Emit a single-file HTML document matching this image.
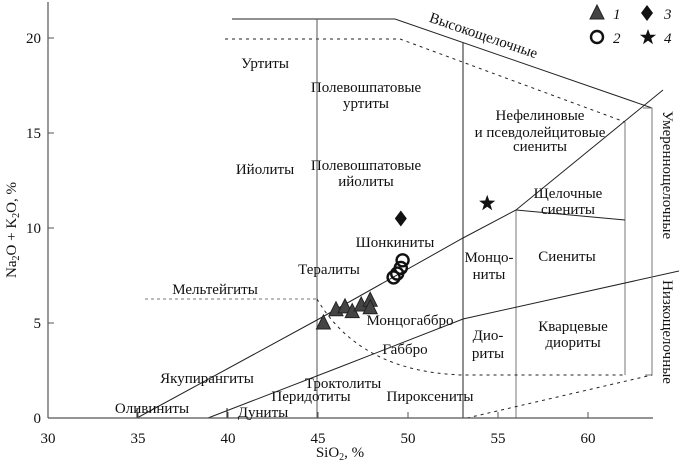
<!DOCTYPE html>
<html><head><meta charset="utf-8"><style>
body{margin:0;background:#fff}
svg{display:block;font-family:"Liberation Serif",serif}
text{font-size:15px;fill:#111}
</style></head><body>
<svg width="679" height="463" viewBox="0 0 679 463">
<g fill="none" stroke="#222" stroke-width="1">
<polyline points="232,19 395,19 652,108"/>
<polyline points="225,39 400,39 625,122" stroke-dasharray="3,4"/>
<line x1="317" y1="19" x2="317" y2="418" stroke="#555"/>
<line x1="463" y1="43" x2="463" y2="418"/>
<line x1="516" y1="210" x2="516" y2="418" stroke="#777"/>
<line x1="625" y1="122" x2="625" y2="375" stroke="#777"/>
<polyline points="137,418 317,320 463,238 516,210 663,90"/>
<line x1="516" y1="210" x2="625" y2="220"/>
<polyline points="208,418 340,367 463,319 679,271"/>
<polyline points="643,108 652,108 652,375 645,375" stroke="#777"/>
<line x1="145" y1="299" x2="317" y2="299" stroke="#777" stroke-dasharray="3,3"/>
<path d="M317,299 Q360,372 463,375 L625,375" stroke-dasharray="3,4"/>
<line x1="467" y1="418" x2="652" y2="375" stroke-dasharray="3,4"/>
<line x1="137" y1="408" x2="137" y2="418"/>
<line x1="227" y1="408" x2="227" y2="418"/>
</g>
<g id="axes" stroke="#555" stroke-width="1.2">
<line x1="48" y1="2" x2="48" y2="418"/>
<line x1="48" y1="418" x2="653" y2="418"/>
</g>
<g id="ticks"></g>
<g text-anchor="middle">
<text x="265" y="68">Уртиты</text>
<text x="265" y="174">Ийолиты</text>
<text x="366" y="92">Полевошпатовые</text><text x="366" y="108">уртиты</text>
<text x="366" y="170">Полевошпатовые</text><text x="366" y="186">ийолиты</text>
<text x="540" y="120">Нефелиновые</text><text x="540" y="137">и псевдолейцитовые</text><text x="540" y="151">сиениты</text>
<text x="568" y="198">Щелочные</text><text x="568" y="214">сиениты</text>
<text x="395" y="247">Шонкиниты</text>
<text x="329" y="274">Тералиты</text>
<text x="489" y="262">Монцо-</text><text x="489" y="279">ниты</text>
<text x="567" y="261">Сиениты</text>
<text x="215" y="294">Мельтейгиты</text>
<text x="410" y="325">Монцогаббро</text>
<text x="405" y="354">Габбро</text>
<text x="488" y="340">Дио-</text><text x="488" y="358">риты</text>
<text x="573" y="331">Кварцевые</text><text x="573" y="347">диориты</text>
<text x="207" y="383">Якупирангиты</text>
<text x="343" y="388">Троктолиты</text>
<text x="311" y="401">Перидотиты</text>
<text x="430" y="401">Пироксениты</text>
<text x="152" y="413">Оливиниты</text>
<text x="263" y="417">Дуниты</text>
<text x="482" y="40" transform="rotate(19 482 40)">Высокощелочные</text>
<text x="663" y="175" transform="rotate(90 663 175)">Умереннощелочные</text>
<text x="663" y="332" transform="rotate(90 663 332)">Низкощелочные</text>
</g>
<g id="points"></g>
<g>
<polygon points="597,5 590,19 604,19" fill="#444" stroke="#222"/>
<text x="613" y="19" font-style="italic">1</text>
<polygon points="647,5 653,13 647,21 641,13" fill="#111"/>
<text x="664" y="19" font-style="italic">3</text>
<circle cx="597" cy="37" r="6" fill="none" stroke="#111" stroke-width="2.4"/>
<text x="613" y="43" font-style="italic">2</text>
<polygon points="648,29 650.1,34.8 656.1,34.8 651.2,38.4 653,44.2 648,40.6 643,44.2 644.8,38.4 639.9,34.8 645.9,34.8" fill="#111"/>
<text x="664" y="43" font-style="italic">4</text>
</g>
<text x="340" y="457" text-anchor="middle">SiO<tspan font-size="10" dy="3">2</tspan><tspan dy="-3">, %</tspan></text>
<text x="16" y="230" text-anchor="middle" transform="rotate(-90 16 230)">Na<tspan font-size="10" dy="3">2</tspan><tspan dy="-3">O + K</tspan><tspan font-size="10" dy="3">2</tspan><tspan dy="-3">O, %</tspan></text>
</svg>
<script>
const xTicks=[30,35,40,45,50,55,60];
const yTicks=[0,5,10,15,20];
const triSi=[45.3,46.0,46.5,46.9,47.4,47.9,47.9];
const triAlk=[5.0,5.7,5.85,5.6,5.95,6.2,5.8];
const circSi=[49.7,49.6,49.4,49.2];
const circAlk=[8.3,7.9,7.6,7.4];
const diaSi=[49.6];
const diaAlk=[10.5];
const starSi=[54.4];
const starAlk=[11.3];
const X=v=>48+(v-30)*18, Y=v=>418-v*19;
const NS="http://www.w3.org/2000/svg";
function mk(tag,attrs,parent){const e=document.createElementNS(NS,tag);for(const k in attrs)e.setAttribute(k,attrs[k]);parent.appendChild(e);return e;}
const tg=document.getElementById('ticks');
xTicks.forEach(v=>{
 const l=mk('line',{x1:X(v),x2:X(v),y1:418,y2:412,stroke:'#555'},tg);
 
 
 const t=mk('text',{x:X(v),y:443,'text-anchor':'middle'},tg);t.textContent=v;
 
 
});
yTicks.forEach(v=>{
 const l=mk('line',{x1:48,x2:54,y1:Y(v),y2:Y(v),stroke:'#555'},tg);
 
 
 const t=mk('text',{x:41,y:Y(v)+5,'text-anchor':'end'},tg);t.textContent=v;
 
 
});
const pg=document.getElementById('points');
triSi.forEach((s,i)=>{const x=X(s),y=Y(triAlk[i]);
 const p=mk('polygon',{points:`${x},${y-8} ${x-7},${y+6} ${x+7},${y+6}`,fill:'#444',stroke:'#222'},pg);
 
 });
circSi.forEach((s,i)=>{
 const c=mk('circle',{cx:X(s),cy:Y(circAlk[i]),r:6,fill:'none',stroke:'#111','stroke-width':2.4},pg);
 
 });
diaSi.forEach((s,i)=>{const x=X(s),y=Y(diaAlk[i]);
 const p=mk('polygon',{points:`${x},${y-8} ${x+6},${y} ${x},${y+8} ${x-6},${y}`,fill:'#111'},pg);
 
 });
starSi.forEach((s,i)=>{const x=X(s),y=Y(starAlk[i]);
 const pts=[];for(let k=0;k<10;k++){const r=k%2?3.4:8.5,a=-Math.PI/2+k*Math.PI/5;pts.push((x+r*Math.cos(a)).toFixed(1)+','+(y+r*Math.sin(a)).toFixed(1));}
 const p=mk('polygon',{points:pts.join(' '),fill:'#111'},pg);
 
 });
</script>
</body></html>
